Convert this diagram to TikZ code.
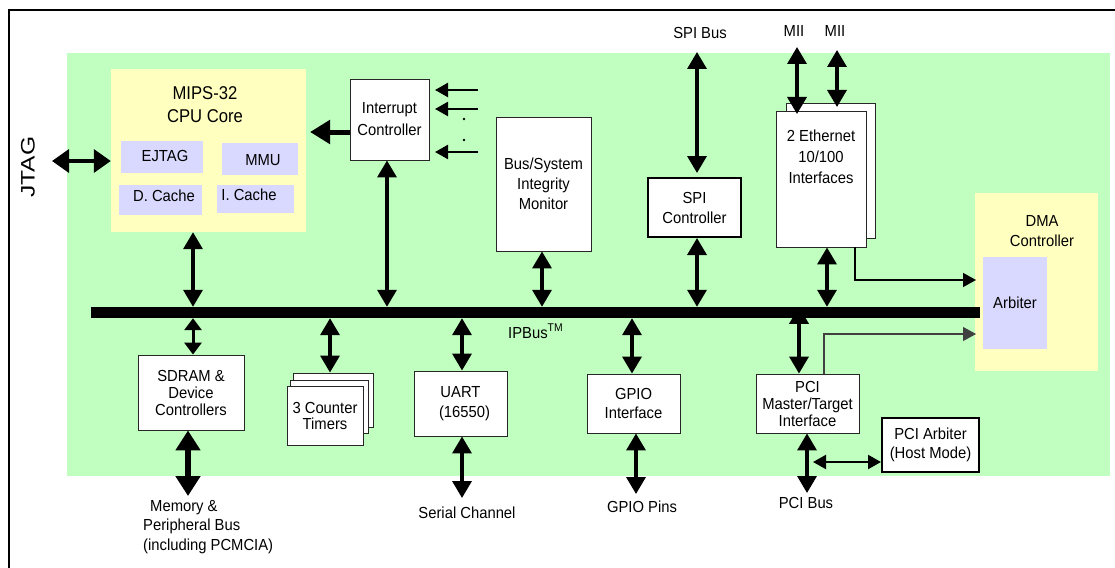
\documentclass[tikz,border=0pt]{standalone}
\usepackage{fontspec}
\setmainfont{Liberation Sans}[FakeStretch=0.925]
\newfontfamily\titlefont{Liberation Sans}[FakeStretch=0.9]
\newfontfamily\jtagfont{Liberation Sans}[FakeStretch=1.26]
\usetikzlibrary{arrows.meta}
\definecolor{chipgreen}{RGB}{192,255,192}
\definecolor{coreyellow}{RGB}{255,255,192}
\definecolor{sublav}{RGB}{217,217,255}
\tikzset{
  txt/.style={font=\fontsize{16}{20}\selectfont, align=center, inner sep=0pt},
  blk/.style={draw=black!85, line width=0.9pt, fill=white, inner sep=0pt,
              font=\fontsize{16}{20}\selectfont, align=center},
  blkb/.style={blk, draw=black, line width=2pt},
  sub/.style={fill=sublav, inner sep=0pt},
  dbl/.style={line width=3.5pt, {Triangle[length=17pt,width=19pt]}-{Triangle[length=17pt,width=19pt]}},
  dblsmall/.style={line width=3pt, {Triangle[length=12pt,width=17pt]}-{Triangle[length=12pt,width=17pt]}},
  dblbig/.style={line width=6pt, {Triangle[length=20pt,width=24pt]}-{Triangle[length=20pt,width=24pt]}},
  dblthin/.style={line width=2.2pt, {Triangle[length=13pt,width=14pt]}-{Triangle[length=13pt,width=14pt]}},
  jtagarr/.style={line width=3.5pt, {Triangle[length=17pt,width=23pt]}-{Triangle[length=17pt,width=23pt]}},
  intin/.style={line width=2.5pt, -{Triangle[length=13pt,width=14pt]}},
  thickarr/.style={line width=5pt, -{Triangle[length=20pt,width=23pt]}},
  thinarr/.style={line width=1.5pt, -{Triangle[length=13pt,width=14pt]}},
}
\begin{document}
\begin{tikzpicture}[x=1pt,y=-1pt]
\useasboundingbox (0,0) rectangle (1115,567);
\draw[line width=2pt] (1116,10) -- (9,10) -- (9,568);

% chip region
\node[fill=chipgreen, minimum width=1043pt, minimum height=423pt, inner sep=0pt] (chip) at (588.5,264.5) {};

% CPU core
\node[fill=coreyellow, minimum width=195pt, minimum height=163pt, inner sep=0pt] (cpu) at (208.5,150.5) {};
\node[txt, font=\titlefont\fontsize{18.5}{23}\selectfont] (cputitle) at (205,105) {MIPS-32\\CPU Core};
\node[sub, minimum width=82pt, minimum height=32pt] (ejtag) at (162,157) {};
\node[sub, minimum width=76pt, minimum height=32pt] (mmu) at (260,159) {};
\node[sub, minimum width=83pt, minimum height=30pt] (dcache) at (160.5,200) {};
\node[sub, minimum width=77pt, minimum height=28pt] (icache) at (255.5,199) {};
\node[txt] (ejtagt) at (165,156) {EJTAG};
\node[txt] (mmut) at (263,160) {MMU};
\node[txt] (dcachet) at (164,196) {D. Cache};
\node[txt] (icachet) at (249,195) {I. Cache};

% JTAG
\node[rotate=90, inner sep=0pt, font=\jtagfont\fontsize{19.5}{20}\selectfont] (jtag) at (28,167) {JTAG};
\coordinate (jtagend) at (52,161);
\draw[jtagarr] (jtagend) -- (cpu.west |- jtagend);

% DMA (drawn before the bus, which overlaps it)
\node[fill=coreyellow, minimum width=123pt, minimum height=178pt, inner sep=0pt] (dma) at (1036.5,282) {};
\node[txt] (dmat) at (1042,231) {DMA\\Controller};
\node[sub, minimum width=64pt, minimum height=92pt, font=\fontsize{16}{20}\selectfont] (arb) at (1015,303) {Arbiter};

% bus
\node[fill=black, minimum width=889pt, minimum height=11pt, inner sep=0pt] (bus) at (535.5,312.5) {};
\node[anchor=base west, inner sep=0pt, font=\fontsize{16}{20}\selectfont] (ipbus) at (508,338) {IPBus\textsuperscript{TM}};

% interrupt controller
\node[blk, minimum width=79pt, minimum height=81pt, font=\fontsize{16}{22}\selectfont] (intc) at (389.5,119.5) {Interrupt\\Controller};
\coordinate (cpuin) at (310,132);
\draw[thickarr] (intc.west |- cpuin) -- (cpuin);
\coordinate (i1s) at (478,90);  \coordinate (i1e) at (435,90);
\coordinate (i2s) at (478,109); \coordinate (i2e) at (435,109);
\coordinate (i3s) at (478,152); \coordinate (i3e) at (435,152);
\draw[intin] (i1s) -- (i1e);
\draw[intin] (i2s) -- (i2e);
\draw[intin] (i3s) -- (i3e);
\fill (464,119) circle (1.3pt);
\fill (464,140) circle (1.3pt);
\coordinate (xint) at (387,0);
\draw[dbl] (bus.north -| xint) -- (intc.south -| xint);
\coordinate (xcpu) at (193,0);
\draw[dbl] (bus.north -| xcpu) -- (cpu.south -| xcpu);

% bus/system integrity monitor
\node[blk, minimum width=95pt, minimum height=134pt] (bsm) at (543.5,184) {Bus/System\\Integrity\\Monitor};
\coordinate (xbsm) at (542,0);
\draw[dbl] (bus.north -| xbsm) -- (bsm.south -| xbsm);

% SPI
\node[blkb, minimum width=93pt, minimum height=59pt] (spi) at (694.5,207.5) {SPI\\Controller};
\node[txt] (spibus) at (700,33) {SPI Bus};
\coordinate (spitop) at (697,52);
\coordinate (spitip) at (697,173);
\draw[dbl] (spitop) -- (spitip);
\coordinate (xspi) at (697,0);
\draw[dbl] (bus.north -| xspi) -- (spi.south -| xspi);

% Ethernet
\node[blk, minimum width=89pt, minimum height=135pt] (ethb) at (830.5,170.5) {};
\node[blk, minimum width=90pt, minimum height=136pt] (eth) at (821,179) {};
\node[txt, font=\fontsize{16}{21}\selectfont] (etht) at (821,157) {2 Ethernet\\10/100\\Interfaces};
\node[txt] (mii1) at (794,31) {MII};
\node[txt] (mii2) at (835,31) {MII};
\coordinate (m1s) at (797,47);  \coordinate (m1e) at (797,114);
\coordinate (m2s) at (837,50);  \coordinate (m2e) at (837,107);
\draw[dbl] (m1s) -- (m1e);
\draw[dbl] (m2s) -- (m2e);
\coordinate (xeth) at (827,0);
\draw[dbl] (bus.north -| xeth) -- (eth.south -| xeth);
\coordinate (xethd) at (855,0);
\coordinate (dmain1) at (976,280);
\draw[thinarr] (eth.south -| xethd) |- (dmain1);

% PCI
\node[blk, minimum width=103pt, minimum height=59pt, font=\fontsize{16}{17}\selectfont] (pci) at (807.5,403.5) {PCI\\Master/Target\\Interface};
\coordinate (xpci) at (799,0);
\draw[dbl] (bus.north -| xpci) -- (pci.north -| xpci);
\coordinate (xpcid) at (824,0);
\coordinate (dmain2) at (976,334);
\draw[thinarr, line width=1.1pt, draw=black!75] (pci.north -| xpcid) |- (dmain2);
\coordinate (pcibusend) at (807,493);
\draw[dbl] (pci.south -| pcibusend) -- (pcibusend);
\node[txt] (pcibus) at (806,503) {PCI Bus};
\node[blkb, minimum width=97pt, minimum height=54pt, font=\fontsize{16}{19}\selectfont] (pciarb) at (930.5,445) {PCI Arbiter\\(Host Mode)};
\coordinate (pcih) at (813,462);
\draw[dblthin] (pcih) -- (pciarb.west |- pcih);

% SDRAM
\node[blk, minimum width=106pt, minimum height=75pt, font=\fontsize{16}{17}\selectfont] (sdram) at (191,392.5) {SDRAM \&\\Device\\Controllers};
\coordinate (xsd) at (193,0);
\draw[dblsmall] (bus.south -| xsd) -- (sdram.north -| xsd);
\coordinate (memend) at (188,496);
\draw[dblbig] (sdram.south -| memend) -- (memend);
\node[txt, align=left, anchor=west, font=\fontsize{16}{19.5}\selectfont] (memt) at (143,527) {\hspace{7pt}Memory \&\\Peripheral Bus\\(including PCMCIA)};

% timers
\node[blk, minimum width=80pt, minimum height=54pt] (tim3) at (333,400) {};
\node[blk, minimum width=78pt, minimum height=53pt] (tim2) at (329,406.5) {};
\node[blk, minimum width=76pt, minimum height=59pt, font=\fontsize{16}{16}\selectfont] (tim1) at (325,415.5) {3 Counter\\Timers};
\coordinate (xtim) at (330,0);
\draw[dbl] (bus.south -| xtim) -- (tim3.north -| xtim);

% UART
\node[blk, minimum width=93pt, minimum height=65pt] (uart) at (460.5,403.5) {UART\\\hspace{8pt}(16550)};
\coordinate (xuart) at (462,0);
\draw[dbl] (bus.south -| xuart) -- (uart.north -| xuart);
\coordinate (serend) at (462,498);
\draw[dbl] (uart.south -| serend) -- (serend);
\node[txt] (sert) at (467,513) {Serial Channel};

% GPIO
\node[blk, minimum width=93pt, minimum height=59pt, font=\fontsize{16}{19}\selectfont] (gpio) at (633.5,403.5) {GPIO\\Interface};
\coordinate (xgpio) at (632,0);
\draw[dbl] (bus.south -| xgpio) -- (gpio.north -| xgpio);
\coordinate (gpioend) at (636,494);
\draw[dbl] (gpio.south -| gpioend) -- (gpioend);
\node[txt] (gpiot) at (642,507) {GPIO Pins};
\end{tikzpicture}
\end{document}
